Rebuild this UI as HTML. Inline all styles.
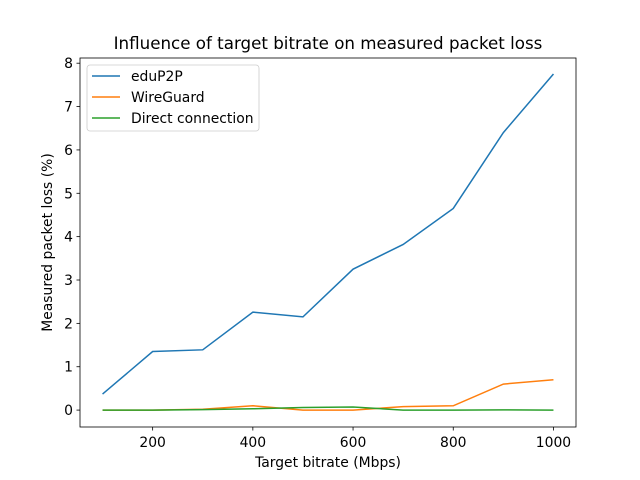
<!DOCTYPE html>
<html><head><meta charset="utf-8"><style>
body{margin:0;background:#fff;}
svg{display:block;font-family:"DejaVu Sans","Liberation Sans",sans-serif;}
</style></head><body>
<svg id="chart" width="640" height="480"></svg>
<script>
const categories=[100,200,300,400,500,600,700,800,900,1000];
const edup2p=[0.37,1.35,1.39,2.26,2.15,3.25,3.82,4.65,6.4,7.75];
const wireguard=[0,0,0.02,0.1,0,0,0.08,0.1,0.6,0.7];
const direct=[0,0,0.01,0.03,0.06,0.07,0,0,0.005,0];
const xTicks=[200,400,600,800,1000];
const yTicks=[0,1,2,3,4,5,6,7,8];
const seriesNames=["eduP2P","WireGuard","Direct connection"];
const L=80,R=576,T=58,B=427;
const xmin=55,xmax=1045,ymin=-0.39,ymax=8.12;
const X=v=>L+(v-xmin)/(xmax-xmin)*(R-L);
const Y=v=>B-(v-ymin)/(ymax-ymin)*(B-T);
const svg=document.getElementById('chart');
const NS='http://www.w3.org/2000/svg';
function mk(tag,attrs,parent){const e=document.createElementNS(NS,tag);for(const k in attrs)e.setAttribute(k,attrs[k]);(parent||svg).appendChild(e);return e;}
const colors=['#1f77b4','#ff7f0e','#2ca02c'];
const data=[edup2p,wireguard,direct];
data.forEach((s,i)=>{
  const p=mk('polyline',{points:s.map((v,j)=>X(categories[j])+','+Y(v)).join(' '),fill:'none',stroke:colors[i],'stroke-width':1.5});
  
  
});
const frame=mk('rect',{x:L,y:T,width:R-L,height:B-T,fill:'none',stroke:'#000','stroke-width':0.8});


xTicks.forEach(t=>{
  mk('line',{x1:X(t),x2:X(t),y1:B,y2:B+3.5,stroke:'#000','stroke-width':0.8});
  const tx=mk('text',{x:X(t),y:B+20,'font-size':13.9,'text-anchor':'middle'});tx.textContent=t;
  
  
});
yTicks.forEach(t=>{
  mk('line',{x1:L-3.5,x2:L,y1:Y(t),y2:Y(t),stroke:'#000','stroke-width':0.8});
  const tx=mk('text',{x:L-7,y:Y(t)+5,'font-size':13.9,'text-anchor':'end'});tx.textContent=t;
  
  
});
const title=mk('text',{x:(L+R)/2,y:49,'font-size':16.7,'text-anchor':'middle'});title.textContent='Influence of target bitrate on measured packet loss';


const xl=mk('text',{x:(L+R)/2,y:467,'font-size':13.9,'text-anchor':'middle'});xl.textContent='Target bitrate (Mbps)';


const yl=mk('text',{x:0,y:0,'font-size':13.9,'text-anchor':'middle',transform:'translate(52,'+((T+B)/2)+') rotate(-90)'});yl.textContent='Measured packet loss (%)';


const lg=mk('g',{});


mk('rect',{x:87,y:65,width:172,height:66,rx:3,fill:'#fff','fill-opacity':0.8,stroke:'#ccc','stroke-width':0.8},lg);
seriesNames.forEach((n,i)=>{
  const y=76+i*21;
  mk('line',{x1:92,x2:120,y1:y,y2:y,stroke:colors[i],'stroke-width':1.5},lg);
  const t=mk('text',{x:131,y:y+5,'font-size':13.9},lg);t.textContent=n;
  
  
});
</script>
</body></html>
